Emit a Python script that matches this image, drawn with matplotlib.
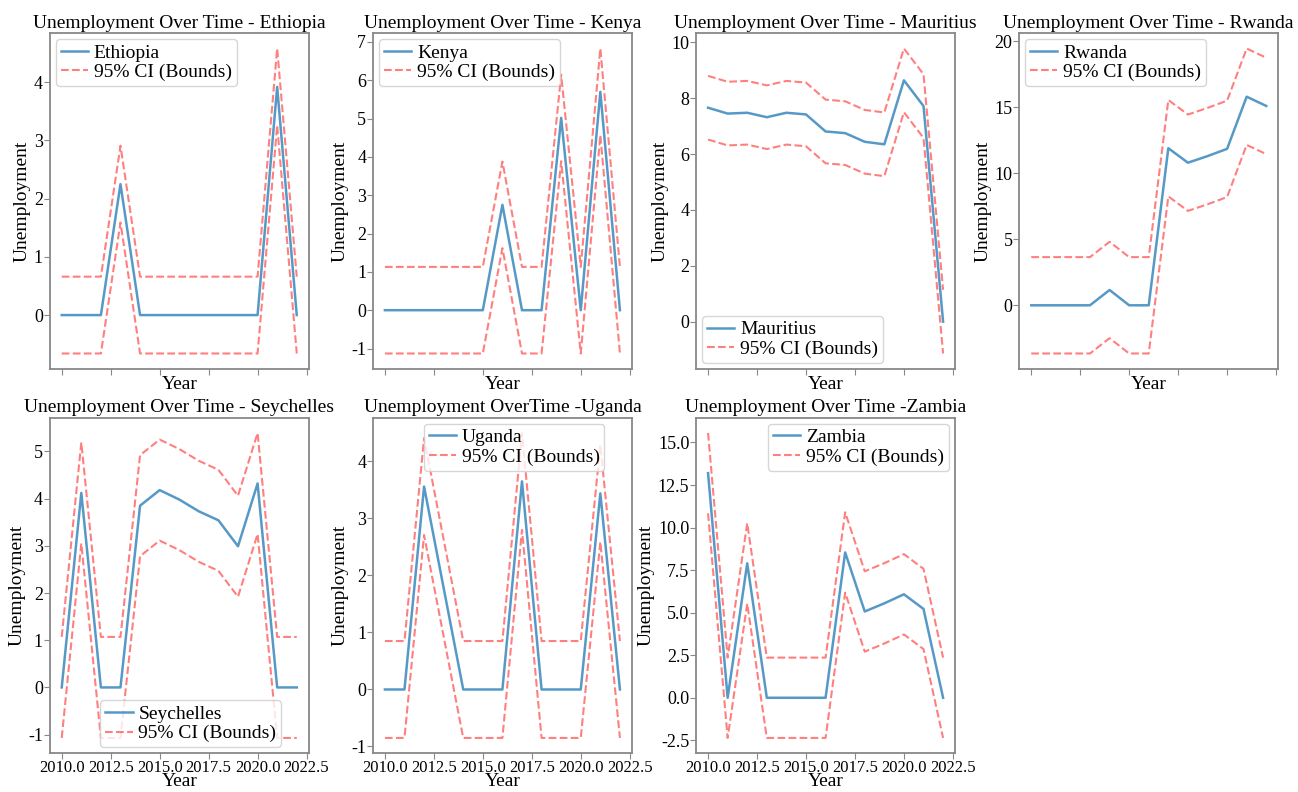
import numpy as np
import matplotlib
matplotlib.use("Agg")
import matplotlib.pyplot as plt
from matplotlib.ticker import MultipleLocator, FormatStrFormatter, MaxNLocator

plt.rcParams['font.family'] = ['Liberation Serif', 'DejaVu Serif']
plt.rcParams['font.size'] = 14
plt.rcParams['axes.unicode_minus'] = False

years = list(range(2010, 2023))

ethiopia = [0, 0, 0, 2.25, 0, 0, 0, 0, 0, 0, 0, 3.92, 0]
kenya = [0, 0, 0, 0, 0, 0, 2.75, 0, 0, 5.02, 0, 5.70, 0]
mauritius = [7.66, 7.45, 7.48, 7.32, 7.48, 7.42, 6.81, 6.75, 6.44, 6.35, 8.64, 7.72, 0]
rwanda = [0, 0, 0, 0, 1.16, 0, 0, 11.9, 10.8, 11.3, 11.85, 15.8, 15.1]
seychelles = [0, 4.12, 0, 0, 3.85, 4.18, 3.98, 3.73, 3.54, 2.99, 4.32, 0, 0]
uganda = [0, 0, 3.56, 1.78, 0, 0, 0, 3.65, 0, 0, 0, 3.44, 0]
zambia = [13.2, 0, 7.9, 0, 0, 0, 0, 8.54, 5.07, 5.55, 6.08, 5.22, 0]

countries = ["Ethiopia", "Kenya", "Mauritius", "Rwanda", "Seychelles", "Uganda", "Zambia"]
series = [ethiopia, kenya, mauritius, rwanda, seychelles, uganda, zambia]
# half-width of the 95% CI band
ci_margin = [0.66, 1.13, 1.14, 3.65, 1.07, 0.85, 2.36]
titles = ["Unemployment Over Time - " + c for c in countries]
titles[5] = "Unemployment OverTime -Uganda"
titles[6] = "Unemployment Over Time -Zambia"
legend_pos = [("upper left", None), ("upper left", None), ("lower left", None),
              ("upper left", None), ("lower center", (0.545, 0.0)),
              ("upper center", (0.545, 1.0)), ("upper right", None)]

fig, axes = plt.subplots(2, 4, figsize=(12.98, 7.92), dpi=100, sharex=True)
fig.subplots_adjust(left=0.0385, right=0.9846, top=0.958, bottom=0.049,
                    wspace=0.25, hspace=0.146)

for i, ax in enumerate(axes.flat):
    if i >= len(countries):
        ax.axis("off")
        continue
    vals = np.array(series[i])
    m = ci_margin[i]
    ax.plot(years, vals, color="#1f77b4", alpha=0.75, lw=1.8, label=countries[i])
    ax.plot(years, vals + m, color="red", alpha=0.5, ls="--", lw=1.5, label="95% CI (Bounds)")
    ax.plot(years, vals - m, color="red", alpha=0.5, ls="--", lw=1.5)
    ax.set_title(titles[i], fontsize=14, pad=4)
    row = i // 4
    ax.set_xlabel("Year", labelpad=1 if row == 0 else -2)
    ax.set_ylabel("Unemployment", labelpad=2)
    ax.xaxis.set_major_locator(MultipleLocator(2.5))
    ax.xaxis.set_major_formatter(FormatStrFormatter("%.1f"))
    ax.yaxis.set_major_locator(MaxNLocator(nbins=9, steps=[1, 2, 2.5, 5, 10]))
    for s in ax.spines.values():
        s.set_color("#888888")
        s.set_linewidth(1.3)
    ax.tick_params(colors="#888888", labelcolor="black", length=4, pad=1)
    ax.tick_params(axis="x", labelsize=12)
    ax.tick_params(axis="y", labelsize=13)
    loc, anchor = legend_pos[i]
    kw = {} if anchor is None else {"bbox_to_anchor": anchor}
    ax.legend(loc=loc, fontsize=14, handlelength=1.4, borderpad=0.25,
              labelspacing=0.1, handletextpad=0.3, borderaxespad=0.3, **kw)

axes[0, 3].tick_params(labelbottom=False)
axes[1, 3].axis("off")

plt.savefig("out.png", dpi=100)
